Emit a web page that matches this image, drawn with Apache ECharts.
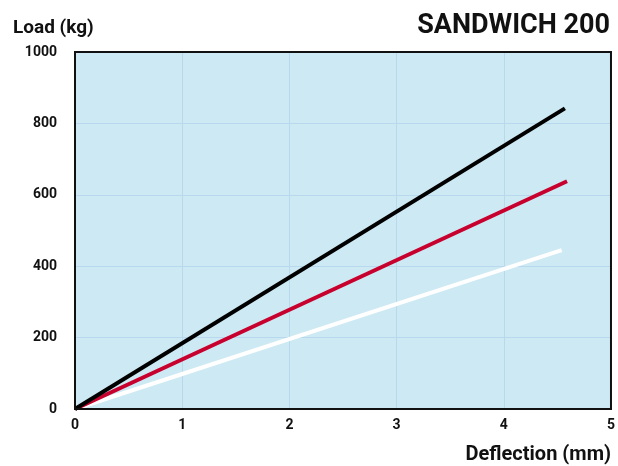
<!DOCTYPE html>
<html><head><meta charset="utf-8">
<script src="https://cdn.jsdelivr.net/npm/echarts@6/dist/echarts.min.js"></script>
<style>html,body{margin:0;padding:0;background:#fff}#c{width:618px;height:466px}</style>
</head><body><div id="c"></div>
<script>
const title = 'SANDWICH 200';
const xName = 'Deflection (mm)';
const yName = 'Load (kg)';
const xTicks = [0, 1, 2, 3, 4, 5];
const yTicks = [0, 200, 400, 600, 800, 1000];
const blackLine = [[0, 0], [4.57, 842]];
const redLine = [[0, 0], [4.59, 638]];
const whiteLine = [[0, 0], [4.54, 445]];

const font = 'Roboto';
const chart = echarts.init(document.getElementById('c'), null, {renderer: 'canvas'});
chart.setOption({
  animation: false,
  backgroundColor: '#ffffff',
  title: {text: title, right: 3, top: 8, textStyle: {fontFamily: font, fontWeight: 'bold', fontSize: 27, color: '#111'}},
  grid: {left: 75, right: 3, top: 52, bottom: 57, show: true, backgroundColor: '#cde9f3', borderWidth: 0},
  xAxis: {
    type: 'value', min: xTicks[0], max: xTicks[xTicks.length - 1], interval: 1,
    name: xName, nameLocation: 'end', nameGap: 0,
    nameTextStyle: {fontFamily: font, fontWeight: 'bold', fontSize: 20, color: '#111', align: 'right', verticalAlign: 'top', padding: [36, 0, 0, 0]},
    axisLine: {show: true, lineStyle: {color: '#111', width: 2}},
    axisTick: {show: false},
    axisLabel: {fontFamily: font, fontWeight: 'bold', fontSize: 14, color: '#111', margin: 9},
    splitLine: {show: true, lineStyle: {color: '#b8d8ee', width: 1}}
  },
  yAxis: {
    type: 'value', min: yTicks[0], max: yTicks[yTicks.length - 1], interval: 200,
    name: yName, nameLocation: 'end', nameGap: 14,
    nameTextStyle: {fontFamily: font, fontWeight: 'bold', fontSize: 19, color: '#111', align: 'left', padding: [0, 0, 0, -62]},
    axisLine: {show: true, lineStyle: {color: '#111', width: 2}},
    axisTick: {show: false},
    axisLabel: {fontFamily: font, fontWeight: 'bold', fontSize: 14, color: '#111', margin: 18, formatter: v => String(v)},
    splitLine: {show: true, lineStyle: {color: '#b8d8ee', width: 1}}
  },
  series: [
    {type: 'line', data: whiteLine, symbol: 'none', lineStyle: {color: '#ffffff', width: 4}, z: 3},
    {type: 'line', data: redLine, symbol: 'none', lineStyle: {color: '#c8002e', width: 4}, z: 4},
    {type: 'line', data: blackLine, symbol: 'none', lineStyle: {color: '#000000', width: 4}, z: 5}
  ]
});
const g = chart.getModel().getComponent('grid').coordinateSystem.getRect();
chart.setOption({graphic: [{type: 'rect', shape: {x: g.x, y: g.y, width: g.width, height: g.height}, style: {fill: 'none', stroke: '#111', lineWidth: 2}, z: 10, silent: true}]});
</script></body></html>
